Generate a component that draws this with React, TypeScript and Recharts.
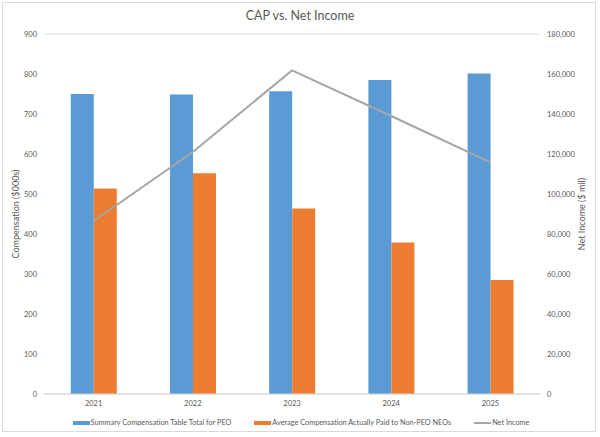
import React from "react";
import {
  ComposedChart,
  Bar,
  Line,
  XAxis,
  YAxis,
  CartesianGrid,
  Legend,
} from "recharts";

const years = ["2021", "2022", "2023", "2024", "2025"];
const sctTotalPEO = [750, 749, 757, 785, 801];
const avgCapNonPEO = [514, 552, 464, 379, 285];
const netIncome = [86500, 121000, 161800, 139000, 115800];

const leftTicks = [0, 100, 200, 300, 400, 500, 600, 700, 800, 900];
const rightTicks = [0, 20000, 40000, 60000, 80000, 100000, 120000, 140000, 160000, 180000];

const seriesNames = [
  "Summary Compensation Table Total for PEO",
  "Average Compensation Actually Paid to Non-PEO NEOs",
  "Net Income",
];

const data = years.map((y, i) => ({
  year: y,
  sct: sctTotalPEO[i],
  cap: avgCapNonPEO[i],
  ni: netIncome[i],
}));

const FONT = "Lato, 'Open Sans', sans-serif";
const TEXT = "#595959";
const GRID = "#d9d9d9";
const BLUE = "#5B9BD5";
const ORANGE = "#ED7D31";
const GRAY = "#A5A5A5";

const fmt = (v: number) => v.toLocaleString("en-US");

const LegendContent = () => {
  const items = [
    { name: seriesNames[0], color: BLUE, type: "bar" },
    { name: seriesNames[1], color: ORANGE, type: "bar" },
    { name: seriesNames[2], color: GRAY, type: "line" },
  ];
  return (
    <div
      style={{
        display: "flex",
        justifyContent: "center",
        alignItems: "center",
        fontFamily: FONT,
        fontSize: 7.3,
        color: TEXT,
        gap: 23,
        paddingLeft: 2,
        paddingTop: 4,
      }}
    >
      {items.map((it) => (
        <div key={it.name} style={{ display: "flex", alignItems: "center" }}>
          <span
            style={{
              display: "inline-block",
              width: 17,
              height: it.type === "bar" ? 4 : 2,
              background: it.color,
              marginRight: 1,
            }}
          />
          <span>{it.name}</span>
        </div>
      ))}
    </div>
  );
};

export default function App() {
  return (
    <div style={{ position: "absolute", left: 0, top: 0, width: 600, height: 437, background: "#fff" }}>
      <style>{`body{margin:0}`}</style>
      <div
        style={{
          position: "absolute",
          left: 2,
          top: 2,
          width: 594,
          height: 430,
          border: "1px solid #d9d9d9",
          boxSizing: "border-box",
        }}
      />
      <div
        style={{
          position: "absolute",
          top: 8,
          width: 600,
          textAlign: "center",
          fontFamily: FONT,
          fontSize: 12.5,
          color: TEXT,
        }}
      >
        CAP vs. Net Income
      </div>
      <div style={{ position: "absolute", left: 0, top: 0 }}>
        <ComposedChart
          width={600}
          height={437}
          data={data}
          margin={{ top: 34, right: 0, left: 0, bottom: 3 }}
          barCategoryGap="27%"
          barGap={0}
        >
          <CartesianGrid vertical={false} stroke={GRID} strokeWidth={1} />
          <XAxis
            dataKey="year"
            axisLine={{ stroke: GRID }}
            tickLine={false}
            tickSize={0}
            height={20}
            tick={{ fontFamily: FONT, fontSize: 7.5, fill: TEXT }}
            tickMargin={7}
          />
          <YAxis
            yAxisId="left"
            width={44}
            domain={[0, 900]}
            ticks={leftTicks}
            axisLine={false}
            tickLine={false}
            tickSize={0}
            tickMargin={7}
            tick={{ fontFamily: FONT, fontSize: 7.5, fill: TEXT }}
            label={{
              value: "Compensation ($000s)",
              angle: -90,
              position: "insideLeft",
              offset: 16,
              style: { textAnchor: "middle", fontFamily: FONT, fontSize: 9, fill: TEXT },
            }}
          />
          <YAxis
            yAxisId="right"
            orientation="right"
            width={60}
            domain={[0, 180000]}
            ticks={rightTicks}
            tickFormatter={fmt}
            axisLine={false}
            tickLine={false}
            tickSize={0}
            tickMargin={7}
            tick={{ fontFamily: FONT, fontSize: 7.5, fill: TEXT }}
            label={{
              value: "Net Income ($ mil)",
              angle: -90,
              position: "insideRight",
              offset: 18,
              style: { textAnchor: "middle", fontFamily: FONT, fontSize: 9, fill: TEXT },
            }}
          />
          <Legend verticalAlign="bottom" height={20} content={<LegendContent />} />
          <Bar yAxisId="left" dataKey="sct" name={seriesNames[0]} fill={BLUE} isAnimationActive={false} />
          <Bar yAxisId="left" dataKey="cap" name={seriesNames[1]} fill={ORANGE} isAnimationActive={false} />
          <Line
            yAxisId="right"
            dataKey="ni"
            name={seriesNames[2]}
            stroke={GRAY}
            strokeWidth={2}
            dot={false}
            type="linear"
            isAnimationActive={false}
          />
        </ComposedChart>
      </div>
    </div>
  );
}
